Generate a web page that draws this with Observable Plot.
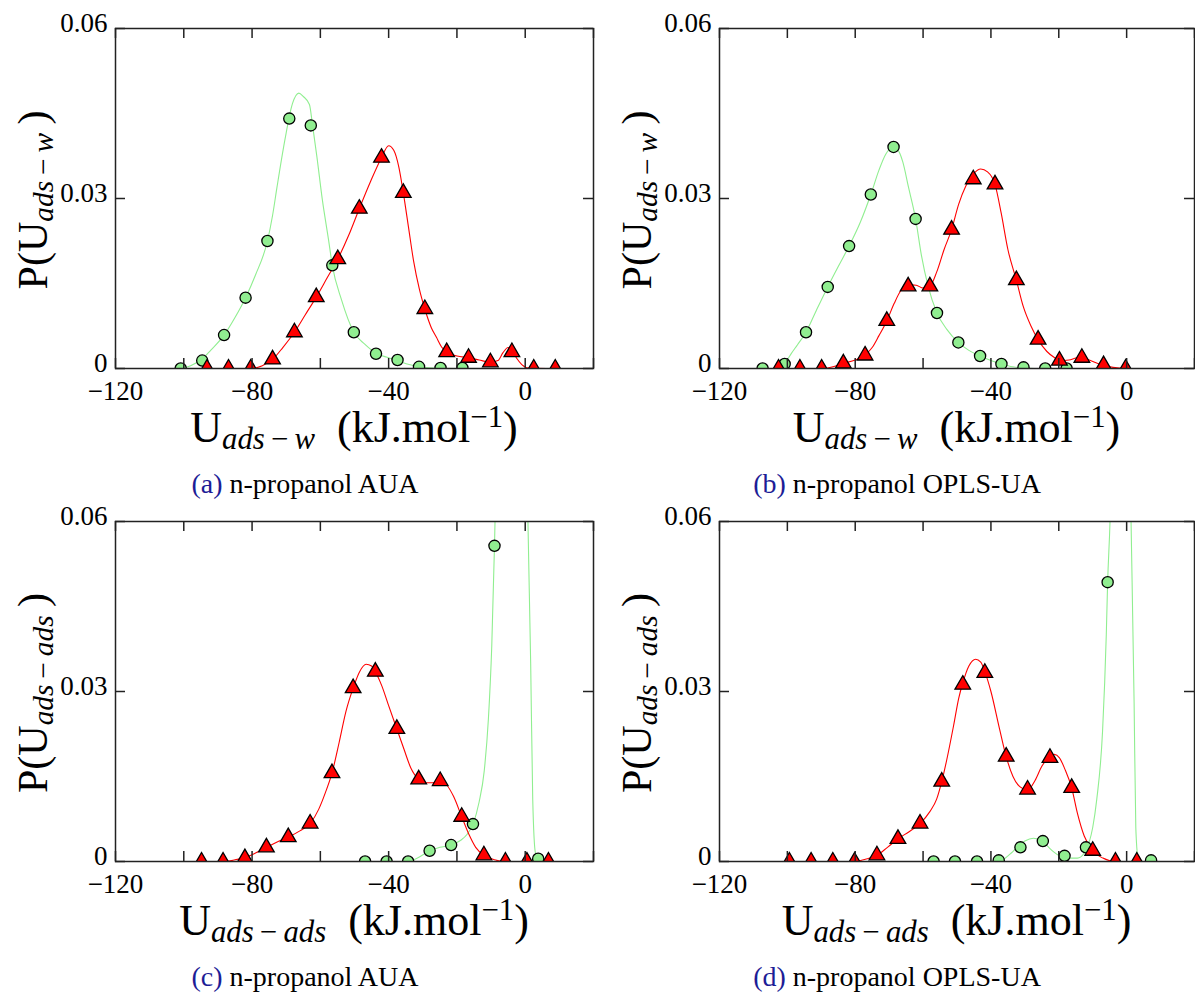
<!DOCTYPE html>
<html>
<head>
<meta charset="utf-8">
<script src="https://cdn.jsdelivr.net/npm/d3@7"></script>
<script src="https://cdn.jsdelivr.net/npm/@observablehq/plot@0.6"></script>
<style>
html,body{margin:0;padding:0;background:#fff;}
#fig{position:relative;width:1195px;height:995px;overflow:hidden;font-family:"Liberation Serif",serif;color:#000;}
.pan{position:absolute;width:600px;}
.pan svg{max-width:none !important;}
.lbl{position:absolute;white-space:nowrap;line-height:1;font-size:42px;}
.sb{font-style:italic;font-size:0.7em;position:relative;top:0.22em;}
.sb .n{font-style:normal;}
.sp{font-size:0.7em;position:relative;top:-0.5em;}
.cap{position:absolute;white-space:nowrap;line-height:1;font-size:28px;transform:translateX(-50%);}
.cap .k{color:#1d1d96;}
</style>
</head>
<body>
<div id="fig"></div>
<script>
// ---------- axes ----------
const xDomain = [-120, 20];
const yDomain = [0, 0.06];
const xTickLabels = [-120, -80, -40, 0];
const xMinorTicks = [-120, -100, -80, -60, -40, -20, 0, 20];
const yTickLabels = [0, 0.03, 0.06];

// ---------- colours ----------
const greenColor = "#90ee90";
const redColor = "#ff0000";

// ---------- (a) n-propanol AUA, U ads-w ----------
const aGreenPts = [[-100.9,0],[-94.6,0.0014],[-88.2,0.0059],[-81.9,0.0125],[-75.5,0.0225],[-69.1,0.0441],[-62.8,0.0429],[-56.5,0.0182],[-50.2,0.0064],[-43.7,0.0026],[-37.4,0.0015],[-31.1,0.0003],[-24.8,0.0001],[-18.4,0.0001]];
const aGreenLine = [[-101,0],[-98,0.0005],[-95,0.0015],[-92,0.0033],[-88.2,0.0059],[-85,0.009],[-81.9,0.0125],[-79,0.0165],[-75.5,0.0225],[-74,0.027],[-72.7,0.032],[-70.4,0.0403],[-68.2,0.0467],[-66.3,0.0486],[-65,0.048],[-63.2,0.0466],[-62.3,0.043],[-61,0.0373],[-59.4,0.0297],[-57.6,0.0227],[-56.5,0.0182],[-53.8,0.0121],[-50.2,0.0064],[-47,0.0043],[-43.7,0.0027],[-40,0.0019],[-37.4,0.0014],[-34,0.0007],[-31,0.0003],[-27,0.0001],[-18,0]];
const aRedPts = [[-93.2,0],[-86.9,0],[-80.4,0],[-74.0,0.0016],[-67.6,0.0064],[-61.2,0.0126],[-54.9,0.0193],[-48.6,0.0282],[-42.1,0.0372],[-35.7,0.031],[-29.4,0.0105],[-23.0,0.0029],[-16.6,0.0019],[-10.2,0.0011],[-3.9,0.0029],[2.5,0],[8.8,0]];
const aRedLine = [[-93.2,0],[-80.4,0],[-77,0.0005],[-74,0.0016],[-71,0.0037],[-67.6,0.0064],[-64.5,0.0094],[-61.2,0.0126],[-58,0.016],[-54.9,0.0193],[-51.7,0.0235],[-48.6,0.0282],[-45.3,0.033],[-42.1,0.0372],[-40,0.0393],[-38.5,0.0385],[-37,0.0355],[-35.7,0.031],[-34.2,0.025],[-32.7,0.019],[-31,0.014],[-29.4,0.0105],[-27.5,0.0072],[-26,0.0055],[-24.5,0.0038],[-23,0.0029],[-20,0.0022],[-16.6,0.0019],[-13.5,0.0015],[-10.2,0.0011],[-8,0.0014],[-6.5,0.0028],[-5,0.0037],[-3.9,0.0033],[-2.5,0.0018],[-1,0.0007],[1,0.0001],[8.8,0]];

// ---------- (b) n-propanol OPLS-UA, U ads-w ----------
const bGreenPts = [[-107.3,0],[-100.8,0.0008],[-94.5,0.0064],[-88.1,0.0144],[-81.8,0.0216],[-75.4,0.0307],[-68.7,0.0391],[-62.2,0.0264],[-55.9,0.0098],[-49.6,0.0046],[-43.2,0.0022],[-36.9,0.0008],[-30.4,0.0002],[-24.0,0],[-17.7,0]];
const bGreenLine = [[-102,0],[-100.8,0.0008],[-99,0.0025],[-97,0.0042],[-94.5,0.0064],[-91.5,0.0102],[-88.1,0.0144],[-85,0.018],[-81.8,0.0216],[-78.5,0.0258],[-75.4,0.0307],[-73,0.035],[-71,0.0378],[-69.2,0.039],[-67.5,0.0386],[-66,0.0365],[-64.3,0.032],[-62.2,0.0264],[-60.5,0.02],[-58.5,0.0145],[-55.9,0.0098],[-53,0.0069],[-49.6,0.0046],[-46.5,0.0032],[-43.2,0.0022],[-40,0.0014],[-36.9,0.0008],[-33.5,0.0003],[-30.4,0.0001],[-24,0],[-17.7,0]];
const bRedPts = [[-102.6,0],[-96.3,0],[-89.9,0],[-83.5,0.0009],[-77.1,0.0023],[-70.7,0.0084],[-64.4,0.0145],[-58.0,0.0145],[-51.6,0.0245],[-45.2,0.0334],[-38.8,0.0325],[-32.5,0.0156],[-26.1,0.0051],[-19.8,0.0014],[-13.2,0.0019],[-6.8,0.0006],[-0.3,0]];
const bRedLine = [[-102.6,0],[-89.9,0],[-86,0.0004],[-83.5,0.0009],[-80,0.0015],[-77.1,0.0024],[-75,0.0037],[-73,0.0058],[-70.7,0.0084],[-68.5,0.0115],[-66.5,0.0138],[-64.4,0.0148],[-62,0.0147],[-60,0.0142],[-58,0.0145],[-56,0.017],[-53.8,0.021],[-51.6,0.0245],[-49.5,0.029],[-47.4,0.0322],[-45.2,0.0343],[-43,0.0352],[-41,0.0347],[-38.8,0.0325],[-37,0.0275],[-35,0.021],[-32.5,0.0156],[-30.5,0.011],[-28.2,0.0075],[-26.1,0.0051],[-23.5,0.003],[-21,0.0018],[-19.8,0.0014],[-17,0.0015],[-14.5,0.0019],[-13.2,0.0019],[-11,0.0015],[-8.5,0.0009],[-6.8,0.0006],[-4,0.0002],[-0.3,0],[3,0]];

// ---------- (c) n-propanol AUA, U ads-ads ----------
const cGreenPts = [[-46.9,0],[-40.6,0],[-34.3,0],[-28.0,0.0019],[-21.7,0.0029],[-15.3,0.0066],[-9.0,0.0557],[3.8,0.0005]];
const cGreenLine = [[-46.9,0],[-34.3,0],[-31,0.0008],[-28,0.0019],[-25,0.0025],[-21.7,0.0029],[-19,0.0037],[-17,0.0048],[-15.3,0.0066],[-13.5,0.0105],[-12,0.016],[-10.8,0.025],[-9.8,0.038],[-9,0.0557],[-8.3,0.075],[-7,0.11],[-5,0.15],[-3,0.16],[-1,0.13],[0.3,0.08],[0.8,0.06],[1.6,0.035],[2.2,0.011],[3,0.0015],[3.8,0.0005],[5,0]];
const cRedPts = [[-94.8,0],[-88.5,0],[-82.1,0.0006],[-75.8,0.0025],[-69.4,0.0043],[-63.0,0.0067],[-56.6,0.0156],[-50.4,0.0306],[-43.9,0.0335],[-37.6,0.0234],[-31.2,0.0145],[-24.9,0.0142],[-18.6,0.0079],[-12.1,0.0011],[-5.8,0],[0.5,0],[6.8,0]];
const cRedLine = [[-94.8,0],[-88.5,0],[-85,0.0003],[-82.1,0.0007],[-79,0.0015],[-75.8,0.0025],[-72.5,0.0035],[-69.4,0.0043],[-66,0.0054],[-63,0.0067],[-60.5,0.0092],[-58.5,0.0122],[-56.6,0.0156],[-54.5,0.021],[-52.5,0.0265],[-50.4,0.0306],[-48.5,0.0335],[-46.6,0.0348],[-45,0.0345],[-43.9,0.0335],[-42,0.031],[-40,0.0275],[-37.6,0.0234],[-35.5,0.0198],[-33.5,0.0165],[-31.2,0.0145],[-29,0.0139],[-27,0.0139],[-24.9,0.0142],[-23,0.0135],[-21,0.0115],[-18.6,0.0079],[-16.5,0.0048],[-14.5,0.0025],[-12.1,0.0011],[-9,0.0003],[-5.8,0],[6.8,0]];

// ---------- (d) n-propanol OPLS-UA, U ads-ads ----------
const dGreenPts = [[-56.9,0],[-50.6,0],[-44.1,0],[-37.7,0.0002],[-31.3,0.0025],[-24.7,0.0036],[-18.3,0.001],[-12.0,0.0025],[-5.6,0.0493],[7.2,0.0002]];
const dGreenLine = [[-56.9,0],[-38,0],[-36,0.0005],[-34,0.0015],[-32,0.0027],[-30,0.0036],[-27.5,0.0041],[-25.5,0.0038],[-23.5,0.0028],[-21.5,0.0017],[-19.5,0.0009],[-17,0.0006],[-14.5,0.0006],[-12.5,0.0015],[-11,0.0035],[-10,0.006],[-8.8,0.011],[-7.1,0.023],[-6,0.04],[-5.6,0.0493],[-4.9,0.06],[-4,0.085],[-2,0.13],[-0.5,0.12],[0.6,0.085],[1.3,0.06],[2.2,0.028],[2.7,0.006],[3.3,0.001],[4.5,0],[7.2,0]];
const dRedPts = [[-99.4,0],[-93.0,0],[-86.6,0],[-80.2,0],[-73.6,0.0011],[-67.4,0.004],[-60.9,0.0067],[-54.5,0.0141],[-48.3,0.0312],[-41.8,0.0333],[-35.5,0.0185],[-29.2,0.0127],[-22.6,0.0183],[-16.2,0.013],[-10.0,0.0019],[-3.3,0],[3.0,0]];
const dRedLine = [[-99.4,0],[-80.2,0],[-77,0.0004],[-73.6,0.0011],[-70.5,0.0025],[-67.4,0.004],[-64,0.0053],[-60.9,0.0067],[-58,0.0088],[-56,0.011],[-54.5,0.0141],[-53,0.018],[-51,0.024],[-49.5,0.0288],[-48.3,0.0315],[-46.5,0.0345],[-44.5,0.0357],[-43,0.0352],[-41.8,0.0335],[-40,0.03],[-37.5,0.0235],[-35.5,0.0185],[-33.5,0.015],[-31.5,0.0132],[-29.2,0.0126],[-27,0.0143],[-25,0.0168],[-22.6,0.0185],[-21.3,0.0189],[-19.8,0.0183],[-18.2,0.0163],[-16.2,0.013],[-14.5,0.0085],[-12.5,0.0045],[-10,0.0019],[-7,0.0006],[-3.3,0],[3,0]];

// ---------- text ----------
const captionTags = ["(a)", "(b)", "(c)", "(d)"];
const captionTexts = ["n-propanol AUA", "n-propanol OPLS-UA", "n-propanol AUA", "n-propanol OPLS-UA"];
const subscripts = [["ads", "w"], ["ads", "w"], ["ads", "ads"], ["ads", "ads"]];

const panels = [
  {green: aGreenPts, greenLine: aGreenLine, red: aRedPts, redLine: aRedLine, col: 0, row: 0},
  {green: bGreenPts, greenLine: bGreenLine, red: bRedPts, redLine: bRedLine, col: 1, row: 0},
  {green: cGreenPts, greenLine: cGreenLine, red: cRedPts, redLine: cRedLine, col: 0, row: 1},
  {green: dGreenPts, greenLine: dGreenLine, red: dRedPts, redLine: dRedLine, col: 1, row: 1}
];

const colX = [0, 604];
const colRightMargin = [7, 10];
const captionX = [305, 897];
const rowY = [0, 493];
const fig = document.getElementById("fig");
const fmtX = d => d < 0 ? "\u2212" + Math.abs(d) : String(d);
const fmtY = d => d === 0 ? "0" : d.toFixed(2);
const frameH = 340, tickLen = 10;

function subHTML(s) {
  return `<span class="sb">${s[0]}\u2009<span class="n">\u2212</span>\u2009${s[1]}</span>`;
}

panels.forEach((p, i) => {
  const left = colX[p.col], top = rowY[p.row];
  const mr = colRightMargin[p.col];
  const frameW = 600 - 115 - mr;
  const chart = Plot.plot({
    width: 600, height: 414,
    marginLeft: 115, marginRight: mr, marginTop: 28, marginBottom: 46,
    x: {domain: xDomain},
    y: {domain: yDomain},
    style: {fontFamily: "'Liberation Serif', serif", fontSize: "27px", background: "transparent", color: "#000", overflow: "visible", maxWidth: "none"},
    marks: [
      Plot.line(p.greenLine, {x: d => d[0], y: d => d[1], stroke: greenColor, strokeWidth: 1.1, curve: "monotone-x", clip: true}),
      Plot.line(p.redLine, {x: d => d[0], y: d => d[1], stroke: redColor, strokeWidth: 1.1, curve: "monotone-x", clip: true}),
      Plot.dot(p.green, {x: d => d[0], y: d => d[1], r: 5.6, fill: greenColor, stroke: "#000", strokeWidth: 1.3, clip: true}),
      Plot.dot(p.red, {x: d => d[0], y: d => d[1], r: 5.8, symbol: "triangle", fill: redColor, stroke: "#000", strokeWidth: 1.3, clip: true}),
      Plot.tickX(xMinorTicks, {x: d => d, insetTop: frameH - tickLen, stroke: "#222", strokeWidth: 1.5}),
      Plot.tickX(xMinorTicks, {x: d => d, insetBottom: frameH - tickLen, stroke: "#222", strokeWidth: 1.5}),
      Plot.tickY(yTickLabels, {y: d => d, insetRight: frameW - tickLen, stroke: "#222", strokeWidth: 1.5}),
      Plot.tickY(yTickLabels, {y: d => d, insetLeft: frameW - tickLen, stroke: "#222", strokeWidth: 1.5}),
      Plot.frame({stroke: "#222", strokeWidth: 1.5}),
      Plot.axisX({ticks: xTickLabels, tickSize: 0, tickPadding: 12, tickFormat: fmtX, fontSize: 27, label: null}),
      Plot.axisY({ticks: yTickLabels, tickSize: 0, tickPadding: 8, tickFormat: fmtY, fontSize: 27, label: null, dy: -5})
    ]
  });
  const wrap = document.createElement("div");
  wrap.className = "pan";
  wrap.style.left = left + "px";
  wrap.style.top = top + "px";
  wrap.appendChild(chart);
  fig.appendChild(wrap);

  const frameCenter = left + 115 + frameW / 2;

  // x title
  const xt = document.createElement("div");
  xt.className = "lbl";
  xt.style.fontSize = "44px";
  xt.style.left = frameCenter + "px";
  xt.style.top = (406 + top) + "px";
  xt.style.transform = "translateX(-50%)";
  xt.innerHTML = `U${subHTML(subscripts[i])}&nbsp;&nbsp;(kJ.mol<span class="sp">\u22121</span>)`;
  fig.appendChild(xt);

  // y title
  const yt = document.createElement("div");
  yt.className = "lbl";
  yt.style.left = (33 + left) + "px";
  yt.style.top = (200 + top) + "px";
  yt.style.transform = "translate(-50%,-50%) rotate(-90deg)";
  yt.innerHTML = `P(U${subHTML(subscripts[i])}\u2009)`;
  fig.appendChild(yt);

  // caption
  const cp = document.createElement("div");
  cp.className = "cap";
  cp.style.left = captionX[p.col] + "px";
  cp.style.top = (470 + top) + "px";
  cp.innerHTML = `<span class="k">${captionTags[i]}</span> ${captionTexts[i]}`;
  fig.appendChild(cp);
});
</script>
</body>
</html>
